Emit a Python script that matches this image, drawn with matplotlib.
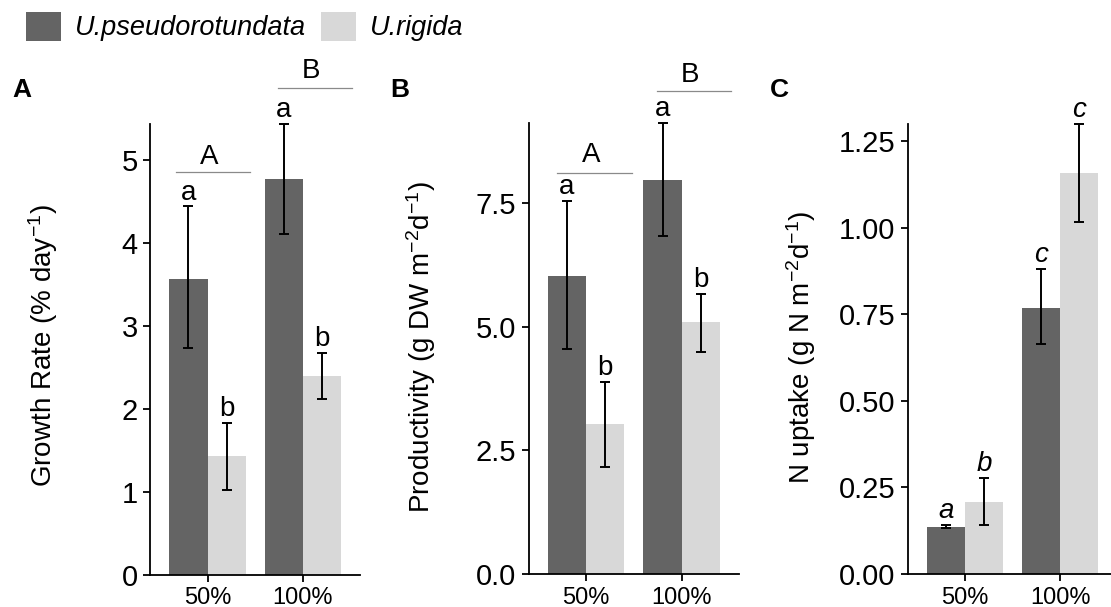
import numpy as np
import matplotlib
matplotlib.use("Agg")
import matplotlib.pyplot as plt

plt.rcParams['font.family'] = ['Liberation Sans', 'DejaVu Sans']
plt.rcParams['mathtext.fontset'] = 'custom'
plt.rcParams['mathtext.rm'] = 'Liberation Sans'
plt.rcParams['mathtext.it'] = 'Liberation Sans:italic'

species = ["U.pseudorotundata", "U.rigida"]
treatments = ["50%", "100%"]
colors = ["#646464", "#d8d8d8"]

# panel A - growth rate
growth_mean = [[3.57, 4.77], [1.43, 2.40]]
growth_lo = [[2.73, 4.11], [1.02, 2.12]]
growth_hi = [[4.44, 5.43], [1.83, 2.67]]
growth_letters = [["a", "a"], ["b", "b"]]

# panel B - productivity
prod_mean = [[6.02, 7.97], [3.03, 5.09]]
prod_lo = [[4.55, 6.84], [2.16, 4.49]]
prod_hi = [[7.54, 9.12], [3.89, 5.67]]
prod_letters = [["a", "a"], ["b", "b"]]

# panel C - N uptake
nup_mean = [[0.137, 0.769], [0.208, 1.158]]
nup_lo = [[0.134, 0.663], [0.142, 1.016]]
nup_hi = [[0.141, 0.881], [0.276, 1.300]]
nup_letters = [["a", "c"], ["b", "c"]]

# treatment-level groups (label, x start, x end, line y, text y)
growth_groups = [("A", -0.33, 0.45, 4.85, 4.95), ("B", 0.74, 1.51, 5.87, 5.99)]
prod_groups = [("A", -0.30, 0.48, 8.12, 8.33), ("B", 0.74, 1.51, 9.78, 9.95)]

W, H = 1111, 607
fig = plt.figure(figsize=(W / 100, H / 100), dpi=100)


def make_ax(x0, y0, px_unit_x, px_unit_y, ytop):
    # x0: pixel of first category centre, y0: pixel of y=0
    left = x0 - 0.6 * px_unit_x
    width = 2.2 * px_unit_x
    height = ytop * px_unit_y
    bottom = H - y0
    return fig.add_axes([left / W, bottom / H, width / W, height / H])


def draw_panel(ax, mean, lo, hi, letters, ytop, yticks, yticklabels, italic):
    x = np.arange(len(treatments))
    bw = 0.4
    bars = []
    for i in range(2):
        xs = x + (i - 0.5) * bw
        b = ax.bar(xs, mean[i], width=bw, color=colors[i], label=species[i], zorder=1)
        bars.append(b)
        err = [np.array(mean[i]) - np.array(lo[i]), np.array(hi[i]) - np.array(mean[i])]
        ax.errorbar(xs, mean[i], yerr=err, fmt="none", ecolor="black",
                    elinewidth=1.4, capsize=3.6, capthick=1.4, zorder=3, clip_on=False)
        for j in range(len(x)):
            ax.annotate(letters[i][j], (xs[j], hi[i][j]), xytext=(0, 5),
                        textcoords="offset points", ha="center", va="baseline",
                        fontsize=20, style="italic" if italic else "normal",
                        annotation_clip=False)
    ax.set_xlim(-0.6, 1.6)
    ax.set_ylim(0, ytop)
    ax.set_xticks(x)
    ax.set_xticklabels(treatments, fontsize=17)
    ax.set_yticks(yticks)
    ax.set_yticklabels(yticklabels, fontsize=21)
    for s in ["top", "right"]:
        ax.spines[s].set_visible(False)
    for s in ["left", "bottom"]:
        ax.spines[s].set_linewidth(1.3)
    ax.tick_params(width=1.3, length=5)
    ax.tick_params(axis="x", pad=4)
    ax.tick_params(axis="y", pad=4)
    return bars


def draw_groups(ax, groups):
    for lab, xa, xb, yl, yt in groups:
        ax.plot([xa, xb], [yl, yl], color="#8a8a8a", lw=0.9, clip_on=False)
        ax.text((xa + xb) / 2 - 0.04, yt, lab, ha="center", va="baseline", fontsize=20)


axA = make_ax(207.5, 575, 95.5, 83.0, 5.43)
bars = draw_panel(axA, growth_mean, growth_lo, growth_hi, growth_letters, 5.43,
                  [0, 1, 2, 3, 4, 5], ["0", "1", "2", "3", "4", "5"], False)
draw_groups(axA, growth_groups)

axB = make_ax(586, 574, 95.7, 49.43, 9.13)
draw_panel(axB, prod_mean, prod_lo, prod_hi, prod_letters, 9.13,
           [0, 2.5, 5, 7.5], ["0.0", "2.5", "5.0", "7.5"], False)
draw_groups(axB, prod_groups)

axC = make_ax(965, 574, 95.0, 346.4, 1.30)
draw_panel(axC, nup_mean, nup_lo, nup_hi, nup_letters, 1.30,
           [0, 0.25, 0.5, 0.75, 1.0, 1.25], ["0.00", "0.25", "0.50", "0.75", "1.00", "1.25"], True)

# y labels
fig.text(43 / W, 1 - 346 / H, "Growth Rate (% day$^{-1}$)", rotation=90,
         ha="center", va="center", fontsize=20)
fig.text(421 / W, 1 - 347 / H, "Productivity (g DW m$^{-2}$d$^{-1}$)", rotation=90,
         ha="center", va="center", fontsize=20)
fig.text(801 / W, 1 - 347 / H, "N uptake (g N m$^{-2}$d$^{-1}$)", rotation=90,
         ha="center", va="center", fontsize=20)

# panel tags
for tag, px in [("A", 12), ("B", 390), ("C", 770)]:
    fig.text(px / W, 1 - 97 / H, tag, fontsize=19, fontweight="bold", ha="left", va="baseline")

fig.legend(handles=bars, labels=species, loc="upper left",
           bbox_to_anchor=(26 / W, 1 - 12 / H), ncol=2, frameon=False,
           prop={"size": 19.5, "style": "italic"}, handlelength=1.29, handleheight=1.25,
           handletextpad=0.52, columnspacing=0.55, borderpad=0, borderaxespad=0)

fig.savefig("out.png", dpi=100)
